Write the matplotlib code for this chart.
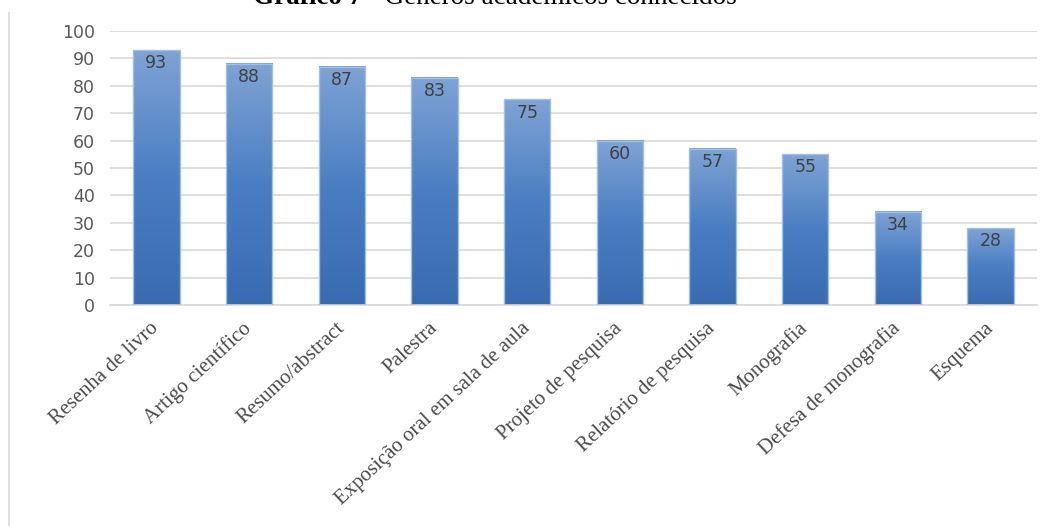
import numpy as np
import matplotlib
matplotlib.use('Agg')
import matplotlib.pyplot as plt
from matplotlib.colors import LinearSegmentedColormap
from matplotlib.lines import Line2D

categories = ['Resenha de livro', 'Artigo científico', 'Resumo/abstract', 'Palestra',
              'Exposição oral em sala de aula', 'Projeto de pesquisa',
              'Relatório de pesquisa', 'Monografia', 'Defesa de monografia', 'Esquema']
values = [93, 88, 87, 83, 75, 60, 57, 55, 34, 28]
yticks = list(range(0, 101, 10))

W, H = 1046, 526
fig = plt.figure(figsize=(W / 100, H / 100), dpi=100)
ax = fig.add_axes([110 / W, 1 - 305 / H, 927 / W, 274 / H])

# vertical gradient, darker at the base of each bar
bar_cmap = LinearSegmentedColormap.from_list(
    'bar', [(0.0, '#396bb0'), (0.5, '#4a7ec2'), (1.0, '#7fa3d4')])
grad = np.linspace(0, 1, 256).reshape(-1, 1)

x = np.arange(len(categories))
bw = 0.5
for xi, v in zip(x, values):
    ax.imshow(grad, extent=[xi - bw / 2, xi + bw / 2, 0, v], origin='lower',
              aspect='auto', cmap=bar_cmap, zorder=2, interpolation='bicubic')
ax.bar(x, values, width=bw, color='none', edgecolor='#a3bfe4', linewidth=1.0, zorder=3)

for xi, v in zip(x, values):
    ax.annotate(str(v), (xi, v), xytext=(0, -3), textcoords='offset points',
                ha='center', va='top', fontsize=12.5, color='#404040',
                family='DejaVu Sans', zorder=4)

ax.set_xlim(-0.5, len(categories) - 0.5)
ax.set_ylim(0, 100)
ax.set_yticks(yticks)
ax.set_yticklabels([str(t) for t in yticks], fontsize=12.5, color='#595959',
                   family='DejaVu Sans')
ax.tick_params(axis='y', length=0, pad=11)
ax.yaxis.grid(True, color='#d9d9d9', linewidth=1.2, zorder=0)
ax.set_axisbelow(True)

ax.set_xticks(x)
ax.set_xticklabels(categories, rotation=43, ha='right', va='center',
                   rotation_mode='anchor', fontsize=15, color='#4a4a4a',
                   family='Liberation Serif')
ax.tick_params(axis='x', length=0, pad=15)

for side in ['top', 'right', 'left']:
    ax.spines[side].set_visible(False)
ax.spines['bottom'].set_color('#d9d9d9')
ax.spines['bottom'].set_linewidth(1.2)

# chart area border on the left
fig.add_artist(Line2D([9 / W, 9 / W], [0, 1 - 13 / H], color='#d9d9d9', linewidth=1.2))

# title, bold prefix followed by regular text
ty = 1 - 4 / H
fig.text(362 / W, ty, 'Gráfico 7', ha='right', va='baseline', fontsize=19.5,
         weight='bold', family='Liberation Serif', color='black')
fig.text(362 / W, ty, ' - Gêneros acadêmicos conhecidos', ha='left', va='baseline',
         fontsize=19.5, family='Liberation Serif', color='black')

fig.savefig('out.png', dpi=100)
